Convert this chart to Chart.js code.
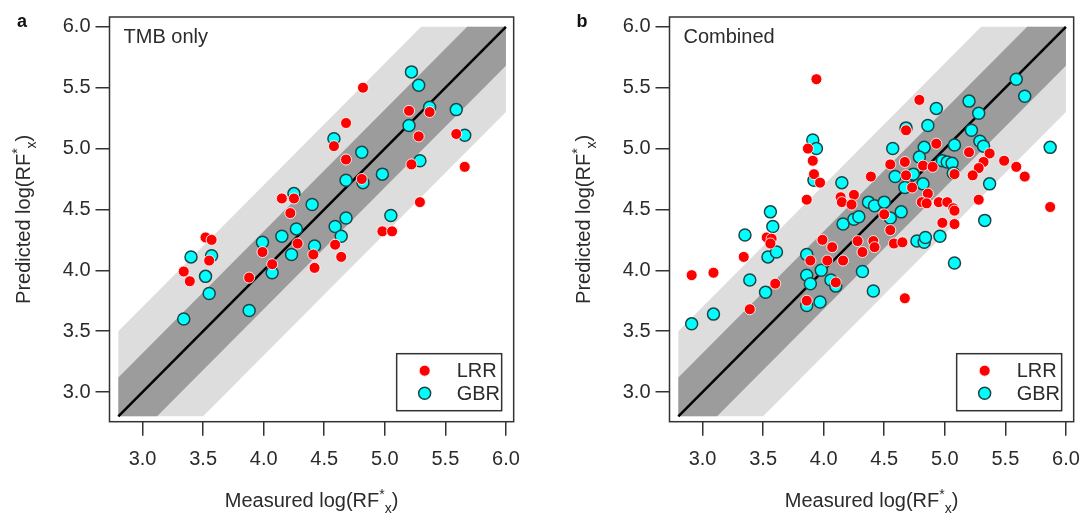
<!DOCTYPE html>
<html>
<head>
<meta charset="utf-8">
<script src="https://cdn.jsdelivr.net/npm/chart.js@4.4.1/dist/chart.umd.min.js"></script>
<style>
  html, body { margin: 0; padding: 0; background: #fff; }
  .panel { position: absolute; top: 0; width: 532px; height: 514px; }
  #pa { left: 0; }
  #pb { left: 560px; }
</style>
</head>
<body>
<div class="panel" id="pa"><canvas id="chartA" width="532" height="514"></canvas></div>
<div class="panel" id="pb"><canvas id="chartB" width="532" height="514"></canvas></div>
<script>
// tick labels on both axes
const tickValues = [3.0, 3.5, 4.0, 4.5, 5.0, 5.5, 6.0];
const seriesNames = ['LRR', 'GBR'];
const panelTitles = ['TMB only', 'Combined'];

// 1:1 line and the two error bands (measured, predicted)
const identityLine = [[2.8, 2.8], [6.0, 6.0]];
const innerBand = [[2.8, 2.8], [2.8, 3.12], [5.68, 6.0], [6.0, 6.0], [6.0, 5.68], [3.12, 2.8]];
const outerBand = [[2.8, 2.8], [2.8, 3.5], [5.3, 6.0], [6.0, 6.0], [6.0, 5.3], [3.5, 2.8]];

// panel a: TMB only  [measured, predicted]
const lrrA = [
  [4.82, 5.50], [5.20, 5.31], [5.37, 5.30], [4.68, 5.21], [5.28, 5.10], [5.59, 5.12],
  [4.58, 5.02], [4.68, 4.91], [5.22, 4.87], [5.66, 4.85], [4.81, 4.75], [5.29, 4.56],
  [4.15, 4.59], [4.25, 4.59], [4.22, 4.47], [4.98, 4.32], [5.06, 4.32], [3.99, 4.15],
  [4.28, 4.22], [4.59, 4.21], [3.52, 4.27], [3.57, 4.25], [3.55, 4.08], [4.41, 4.13],
  [4.64, 4.11], [4.07, 4.05], [4.42, 4.02], [3.34, 3.99], [3.39, 3.91], [3.88, 3.94]
];
const gbrA = [
  [5.22, 5.63], [5.28, 5.52], [5.37, 5.34], [5.59, 5.32], [5.20, 5.19], [5.66, 5.11],
  [4.58, 5.08], [4.81, 4.97], [5.29, 4.90], [4.98, 4.79], [4.68, 4.74], [4.82, 4.72],
  [4.25, 4.63], [4.40, 4.54], [5.05, 4.45], [4.68, 4.43], [4.59, 4.36], [4.27, 4.34],
  [4.64, 4.28], [4.15, 4.28], [3.99, 4.23], [4.42, 4.20], [3.40, 4.11], [3.57, 4.12],
  [4.23, 4.13], [4.07, 3.98], [3.52, 3.95], [3.55, 3.81], [3.88, 3.67], [3.34, 3.60]
];

// panel b: Combined
const lrrB = [
  [3.94, 5.57], [4.79, 5.40], [4.68, 5.15], [3.87, 5.00], [5.37, 4.96], [5.20, 4.97],
  [4.93, 5.04], [3.91, 4.90], [5.32, 4.89], [5.49, 4.90], [4.67, 4.89], [4.55, 4.87],
  [5.28, 4.84], [5.59, 4.85], [4.82, 4.86], [4.90, 4.85], [4.68, 4.78], [3.92, 4.79],
  [3.97, 4.72], [5.08, 4.79], [5.23, 4.78], [5.66, 4.77], [4.39, 4.77], [4.73, 4.68],
  [4.86, 4.63], [3.86, 4.58], [4.25, 4.62], [4.14, 4.60], [4.15, 4.56], [4.23, 4.54],
  [4.81, 4.56], [4.85, 4.55], [4.95, 4.56], [5.02, 4.56], [5.07, 4.51], [5.28, 4.58],
  [5.87, 4.52], [4.50, 4.46], [5.08, 4.49], [5.08, 4.38], [4.98, 4.39], [4.55, 4.33],
  [4.58, 4.22], [4.65, 4.23], [4.67, 3.77], [3.99, 4.25], [4.07, 4.19], [4.28, 4.24],
  [4.41, 4.24], [4.42, 4.19], [4.32, 4.15], [3.89, 4.08], [4.03, 4.08], [4.16, 4.08],
  [4.10, 3.90], [3.86, 3.75], [3.53, 4.27], [3.57, 4.26], [3.56, 4.22], [3.34, 4.11],
  [3.60, 3.89], [3.39, 3.68], [2.91, 3.96], [3.09, 3.98]
];
const gbrB = [
  [5.59, 5.57], [5.66, 5.43], [5.20, 5.39], [4.93, 5.33], [5.28, 5.29], [4.86, 5.19],
  [4.68, 5.17], [5.22, 5.15], [3.91, 5.07], [3.94, 5.00], [5.29, 5.06], [5.32, 5.02],
  [5.87, 5.01], [5.08, 5.03], [4.57, 5.00], [4.83, 5.01], [4.79, 4.93], [4.98, 4.90],
  [5.02, 4.89], [5.06, 4.88], [4.74, 4.79], [5.07, 4.80], [4.59, 4.77], [4.15, 4.72],
  [5.37, 4.71], [4.67, 4.68], [4.82, 4.71], [3.92, 4.74], [4.37, 4.56], [4.42, 4.53],
  [4.50, 4.56], [3.56, 4.48], [4.64, 4.48], [3.58, 4.36], [3.35, 4.29], [4.16, 4.38],
  [4.25, 4.42], [4.29, 4.44], [4.55, 4.43], [5.33, 4.41], [4.77, 4.24], [4.83, 4.23],
  [4.84, 4.27], [4.96, 4.28], [5.08, 4.06], [3.86, 4.13], [3.98, 4.00], [4.32, 3.99],
  [3.86, 3.96], [3.89, 3.89], [4.06, 3.92], [4.10, 3.87], [4.41, 3.83], [3.86, 3.71],
  [3.97, 3.74], [3.54, 4.11], [3.61, 4.15], [3.39, 3.92], [3.52, 3.82], [3.09, 3.64],
  [2.91, 3.56]
];

const FONT = '"Liberation Sans", Arial, sans-serif';
const INK = '#2b2b2b';

const pts = arr => arr.map(p => ({ x: p[0], y: p[1] }));

// text with super/subscript pieces: [text, shift] shift 1 = sup, -1 = sub
function richWidth(ctx, parts, size) {
  let w = 0;
  parts.forEach(([t, s]) => {
    ctx.font = (s ? size * 0.7 : size) + 'px ' + FONT;
    w += ctx.measureText(t).width;
  });
  return w;
}
function drawRich(ctx, parts, cx, base, size) {
  let x = cx - richWidth(ctx, parts, size) / 2;
  ctx.textAlign = 'left';
  ctx.textBaseline = 'alphabetic';
  parts.forEach(([t, s]) => {
    ctx.font = (s ? size * 0.7 : size) + 'px ' + FONT;
    const dy = s === 1 ? -size * 0.38 : s === -1 ? size * 0.28 : 0;
    ctx.fillText(t, x, base + dy);
    x += ctx.measureText(t).width;
  });
}

function deco(letter, title) {
  return {
    id: 'deco' + letter,
    afterDraw(chart) {
      const ctx = chart.ctx;
      const a = chart.chartArea;
      ctx.save();
      // frame
      ctx.strokeStyle = '#333';
      ctx.lineWidth = 1.5;
      ctx.strokeRect(a.left, a.top, a.right - a.left, a.bottom - a.top);

      ctx.fillStyle = INK;
      // panel letter
      ctx.font = 'bold 18px ' + FONT;
      ctx.textAlign = 'center';
      ctx.textBaseline = 'alphabetic';
      ctx.fillStyle = '#111';
      ctx.fillText(letter, 22, 27);

      // inner title
      ctx.fillStyle = INK;
      ctx.font = '20px ' + FONT;
      ctx.textAlign = 'left';
      ctx.fillText(title, a.left + 14, 43);

      // axis titles
      drawRich(ctx, [['Measured log(RF', 0], ['*', 1], ['x', -1], [')', 0]], (a.left + a.right) / 2, 507, 20);
      ctx.save();
      ctx.translate(30, (a.top + a.bottom) / 2);
      ctx.rotate(-Math.PI / 2);
      drawRich(ctx, [['Predicted log(RF', 0], ['*', 1], ['x', -1], [')', 0]], 0, 0, 20);
      ctx.restore();

      // legend
      const bw = 105, bh = 57;
      const bx = a.right - 12 - bw, by = a.bottom - 11 - bh;
      ctx.fillStyle = '#fff';
      ctx.fillRect(bx, by, bw, bh);
      ctx.strokeStyle = '#333';
      ctx.lineWidth = 1.5;
      ctx.strokeRect(bx, by, bw, bh);
      seriesNames.forEach((name, i) => {
        const ds = chart.data.datasets[i];
        const cy = by + 17 + i * 22.5;
        ctx.beginPath();
        ctx.arc(bx + 28, cy, ds.pointRadius, 0, Math.PI * 2);
        ctx.fillStyle = ds.backgroundColor;
        ctx.fill();
        ctx.lineWidth = ds.borderWidth;
        ctx.strokeStyle = ds.borderColor;
        ctx.stroke();
        ctx.fillStyle = INK;
        ctx.font = '20px ' + FONT;
        ctx.textAlign = 'left';
        ctx.textBaseline = 'middle';
        ctx.fillText(name, bx + 60, cy + 1);
      });
      ctx.restore();
    }
  };
}

function axis(pos, min, max) {
  return {
    type: 'linear',
    position: pos,
    min: min,
    max: max,
    afterBuildTicks: s => { s.ticks = tickValues.map(v => ({ value: v })); },
    afterFit: s => { if (pos === 'left') s.width = 109.5; else s.height = 92.3; },
    grid: { drawOnChartArea: false, drawTicks: true, tickLength: 14, color: '#333', lineWidth: 1.5 },
    border: { display: false },
    ticks: {
      color: INK,
      font: { family: FONT, size: 20 },
      padding: pos === 'left' ? 5 : 12,
      autoSkip: false,
      maxRotation: 0,
      callback: v => Number(v).toFixed(1)
    }
  };
}

function makeChart(id, lrr, gbr, letter, title) {
  return new Chart(document.getElementById(id).getContext('2d'), {
    type: 'scatter',
    data: {
      datasets: [
        { label: seriesNames[0], data: pts(lrr), backgroundColor: '#ff0000', borderColor: 'rgba(255,255,255,0.85)', borderWidth: 1, pointRadius: 5.5 },
        { label: seriesNames[1], data: pts(gbr), backgroundColor: '#00ffff', borderColor: '#1d4545', borderWidth: 1.5, pointRadius: 6 },
        { label: '1:1', data: pts(identityLine), showLine: true, borderColor: '#000', borderWidth: 2.5, pointRadius: 0, fill: false },
        { label: 'inner', data: pts(innerBand), showLine: true, borderColor: 'rgba(0,0,0,0)', borderWidth: 1, pointRadius: 0, backgroundColor: '#9c9c9c', fill: 'shape' },
        { label: 'outer', data: pts(outerBand), showLine: true, borderColor: 'rgba(0,0,0,0)', borderWidth: 1, pointRadius: 0, backgroundColor: '#dddddd', fill: 'shape' }
      ]
    },
    options: {
      responsive: false,
      animation: false,
      devicePixelRatio: 1,
      layout: { padding: { top: 13.3, right: 9.7, left: 0, bottom: 0 } },
      scales: {
        x: axis('bottom', 2.727, 6.064),
        y: axis('left', 2.756, 6.081)
      },
      plugins: {
        legend: { display: false },
        tooltip: { enabled: false }
      }
    },
    plugins: [deco(letter, title)]
  });
}

makeChart('chartA', lrrA, gbrA, 'a', panelTitles[0]);
makeChart('chartB', lrrB, gbrB, 'b', panelTitles[1]);
</script>
</body>
</html>
